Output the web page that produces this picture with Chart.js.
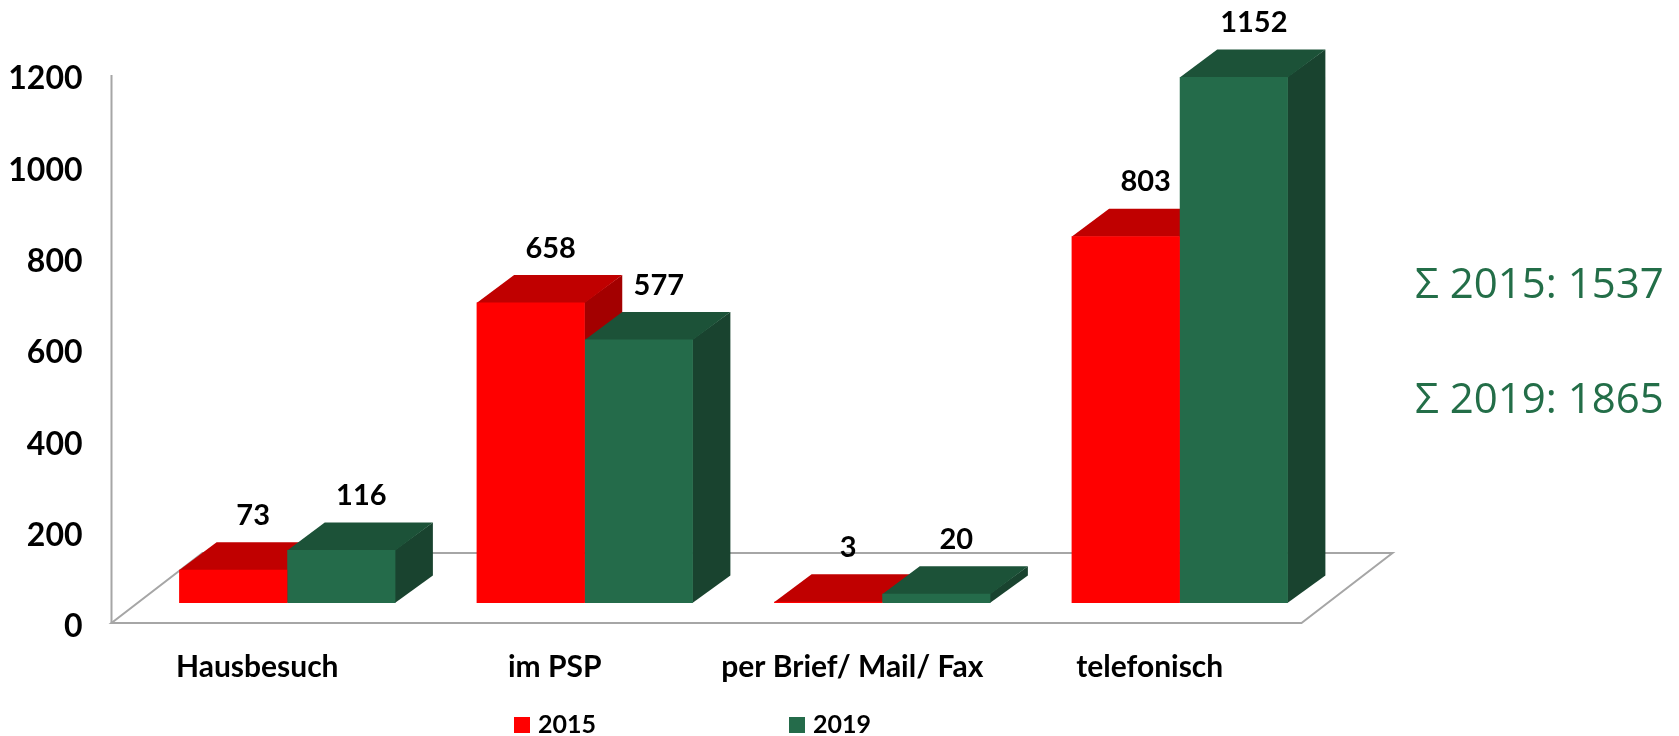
<!DOCTYPE html>
<html lang="de">
<head>
<meta charset="utf-8">
<title>Beratungen 2015 / 2019</title>
<script src="https://cdn.jsdelivr.net/npm/chart.js@4.4.1/dist/chart.umd.min.js"></script>
<style>
    html, body { margin: 0; padding: 0; background: #fff; }
    #chart { display: block; }
</style>
</head>
<body>
<canvas id="chart" width="1679" height="736"></canvas>
<script>
'use strict';

//
// Daten
//

const categories = ['Hausbesuch', 'im PSP', 'per Brief/ Mail/ Fax', 'telefonisch'];
const values2015 = [73, 658, 3, 803];
const values2019 = [116, 577, 20, 1152];
const seriesLabels = ['2015', '2019'];
const yTicks = [0, 200, 400, 600, 800, 1000, 1200];


//
// Aussehen
//

// Vorderseite, Deckel, Seite
const faceColors = [
    { front: '#ff0000', top: '#c00000', side: '#a30000' },
    { front: '#246b4a', top: '#1c5238', side: '#19432f' }
];
const sumColor = '#236e48';
const floorColor = '#a6a6a6';
const fontFamily = 'Lato, "Liberation Sans", sans-serif';

// 3D-Versatz (Pixel)
const barDepth = { x: 37.5, y: -27.5 };
const floorDepth = { x: 91, y: -70 };
const frontShift = { x: -27, y: 20 };


function sum(arr) {
    return arr.reduce((a, b) => a + b, 0);
}


const threeD = {
    id: 'threeD',

    beforeDatasetsDraw(chart) {
        const { ctx, chartArea } = chart;
        const y = chart.scales.y;
        const frontY = y.getPixelForValue(0) + frontShift.y;
        const topY = y.getPixelForValue(yTicks[yTicks.length - 1]) + frontShift.y;
        const left = chartArea.left + frontShift.x;
        const right = chartArea.right + frontShift.x;

        ctx.save();

        // Boden
        ctx.strokeStyle = floorColor;
        ctx.lineWidth = 2;
        ctx.beginPath();
        ctx.moveTo(left, frontY);
        ctx.lineTo(right, frontY);
        ctx.lineTo(right + floorDepth.x, frontY + floorDepth.y);
        ctx.lineTo(left + floorDepth.x, frontY + floorDepth.y);
        ctx.closePath();
        ctx.stroke();

        // Achsenlinie
        ctx.beginPath();
        ctx.moveTo(left, topY);
        ctx.lineTo(left, frontY);
        ctx.stroke();

        // Deckel und Seiten der Säulen
        const metas = chart.data.datasets.map((ds, i) => chart.getDatasetMeta(i));
        for (let c = 0; c < categories.length; c++) {
            metas.forEach((meta, d) => {
                const bar = meta.data[c].getProps(['x', 'y', 'base', 'width'], true);
                const l = bar.x - bar.width / 2;
                const r = bar.x + bar.width / 2;
                const t = bar.y;
                const b = bar.base;
                const dx = barDepth.x, dy = barDepth.y;

                ctx.fillStyle = faceColors[d].side;
                ctx.beginPath();
                ctx.moveTo(r - 0.5, t);
                ctx.lineTo(r + dx, t + dy);
                ctx.lineTo(r + dx, b + dy);
                ctx.lineTo(r - 0.5, b);
                ctx.closePath();
                ctx.fill();

                ctx.fillStyle = faceColors[d].top;
                ctx.beginPath();
                ctx.moveTo(l, t + 0.5);
                ctx.lineTo(r, t + 0.5);
                ctx.lineTo(r + dx, t + dy);
                ctx.lineTo(l + dx, t + dy);
                ctx.closePath();
                ctx.fill();
            });
        }

        ctx.restore();
    },

    afterDatasetsDraw(chart) {
        const { ctx } = chart;
        ctx.save();
        ctx.font = 'bold 29px ' + fontFamily;
        ctx.fillStyle = '#000';
        ctx.textAlign = 'center';
        ctx.textBaseline = 'alphabetic';
        chart.data.datasets.forEach((ds, d) => {
            chart.getDatasetMeta(d).data.forEach((bar, i) => {
                ctx.fillText(String(ds.data[i]), bar.x + 20, bar.y - 45);
            });
        });
        ctx.restore();
    },

    afterDraw(chart) {
        const { ctx } = chart;
        ctx.save();

        // Legende
        ctx.font = 'bold 25px ' + fontFamily;
        ctx.textAlign = 'left';
        ctx.textBaseline = 'alphabetic';
        chart.data.datasets.forEach((ds, d) => {
            const x = 514 + d * 275;
            ctx.fillStyle = ds.backgroundColor;
            ctx.fillRect(x, 717, 16, 16);
            ctx.fillStyle = '#000';
            ctx.fillText(ds.label, x + 24, 733);
        });

        // Summen
        ctx.font = '42px "Open Sans", "Liberation Sans", sans-serif';
        ctx.fillStyle = sumColor;
        ctx.fillText('\u03a3 ' + seriesLabels[0] + ': ' + sum(values2015), 1415, 298);
        ctx.fillText('\u03a3 ' + seriesLabels[1] + ': ' + sum(values2019), 1415, 413);

        ctx.restore();
    }
};


Chart.defaults.font.family = fontFamily;
Chart.defaults.color = '#000';

new Chart(document.getElementById('chart').getContext('2d'), {
    type: 'bar',
    data: {
        labels: categories,
        datasets: [
            {
                label: seriesLabels[0],
                data: values2015,
                backgroundColor: faceColors[0].front,
                borderWidth: 0
            },
            {
                label: seriesLabels[1],
                data: values2019,
                backgroundColor: faceColors[1].front,
                borderWidth: 0
            }
        ]
    },
    options: {
        responsive: false,
        animation: false,
        events: [],
        categoryPercentage: 0.727,
        barPercentage: 1,
        layout: {
            padding: { top: 55, right: 350.5, bottom: 0, left: 0 }
        },
        plugins: {
            legend: { display: false },
            tooltip: { enabled: false }
        },
        scales: {
            x: {
                grid: { display: false, drawTicks: false },
                border: { display: false },
                ticks: {
                    font: { size: 30, weight: 'bold' },
                    color: '#000',
                    labelOffset: -30,
                    padding: 46,
                    maxRotation: 0,
                    autoSkip: false
                },
                afterFit: (scale) => {
                    scale.height = 133;
                    scale.paddingLeft = 0;
                    scale.paddingRight = 0;
                }
            },
            y: {
                min: yTicks[0],
                max: yTicks[yTicks.length - 1],
                grid: { display: false, drawTicks: false },
                border: { display: false },
                ticks: {
                    font: { size: 32, weight: 'bold' },
                    color: '#000',
                    padding: 56,
                    labelOffset: 24,
                    callback: (v) => String(v)
                },
                afterBuildTicks: (scale) => {
                    scale.ticks = yTicks.map(v => ({ value: v }));
                },
                afterFit: (scale) => {
                    scale.width = 138.5;
                    scale.paddingTop = 0;
                    scale.paddingBottom = 0;
                }
            }
        }
    },
    plugins: [threeD]
});
</script>
</body>
</html>
